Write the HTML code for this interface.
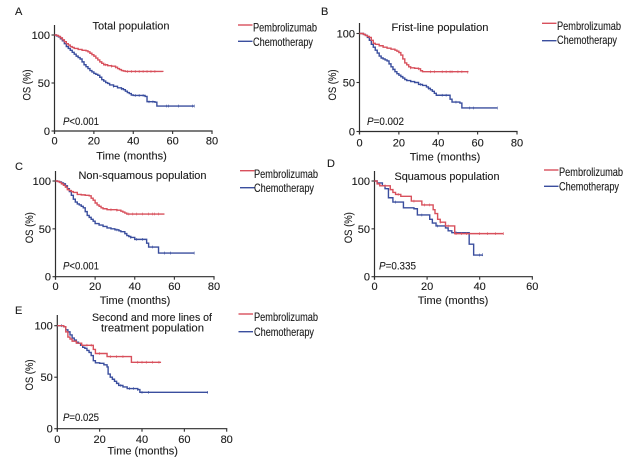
<!DOCTYPE html>
<html lang="en">
<head>
<meta charset="utf-8">
<title>Overall survival curves</title>
<style>
html,body{margin:0;padding:0;background:#fff;width:635px;height:462px;overflow:hidden}
svg{display:block;filter:blur(.35px)}
text{font-family:"Liberation Sans",sans-serif;font-size:11px;fill:#1c1c1c;stroke:#1c1c1c;stroke-width:.12px}
.lg{font-size:12px}
</style>
</head>
<body>
<svg id="figure" width="635" height="462" viewBox="0 0 635 462" xmlns="http://www.w3.org/2000/svg">
<rect width="635" height="462" fill="#fff"/>
<g id="panel-a">
<text x="15" y="15">A</text>
<text x="131" y="29.5" text-anchor="middle">Total population</text>
<text x="63" y="125" textLength="36" lengthAdjust="spacingAndGlyphs"><tspan font-style="italic">P</tspan>&lt;0.001</text>
<text class="lg" x="253" y="31.7" textLength="64" lengthAdjust="spacingAndGlyphs">Pembrolizumab</text>
<text class="lg" x="253" y="46" textLength="60" lengthAdjust="spacingAndGlyphs">Chemotherapy</text>
</g>
<g id="panel-b">
<text x="321" y="15">B</text>
<text x="440" y="31" text-anchor="middle" textLength="97" lengthAdjust="spacingAndGlyphs">Frist-line population</text>
<text x="367" y="125" textLength="37" lengthAdjust="spacingAndGlyphs"><tspan font-style="italic">P</tspan>=0.002</text>
<text class="lg" x="557" y="30.2" textLength="64" lengthAdjust="spacingAndGlyphs">Pembrolizumab</text>
<text class="lg" x="557" y="44.2" textLength="60" lengthAdjust="spacingAndGlyphs">Chemotherapy</text>
</g>
<g id="panel-c">
<text x="15" y="170">C</text>
<text x="142.5" y="179" text-anchor="middle" textLength="128" lengthAdjust="spacingAndGlyphs">Non-squamous population</text>
<text x="63" y="269.7" textLength="36" lengthAdjust="spacingAndGlyphs"><tspan font-style="italic">P</tspan>&lt;0.001</text>
<text class="lg" x="254" y="178.2" textLength="64" lengthAdjust="spacingAndGlyphs">Pembrolizumab</text>
<text class="lg" x="254" y="192.2" textLength="60" lengthAdjust="spacingAndGlyphs">Chemotherapy</text>
</g>
<g id="panel-d">
<text x="327" y="167">D</text>
<text x="447" y="180" text-anchor="middle" textLength="105" lengthAdjust="spacingAndGlyphs">Squamous population</text>
<text x="379" y="269.7" textLength="37" lengthAdjust="spacingAndGlyphs"><tspan font-style="italic">P</tspan>=0.335</text>
<text class="lg" x="559" y="175.9" textLength="64" lengthAdjust="spacingAndGlyphs">Pembrolizumab</text>
<text class="lg" x="559" y="190.5" textLength="60" lengthAdjust="spacingAndGlyphs">Chemotherapy</text>
</g>
<g id="panel-e">
<text x="15" y="314">E</text>
<text x="152" y="321" text-anchor="middle" textLength="120" lengthAdjust="spacingAndGlyphs">Second and more lines of</text>
<text x="152.5" y="331.3" text-anchor="middle" textLength="103" lengthAdjust="spacingAndGlyphs">treatment population</text>
<text x="63" y="421" textLength="36" lengthAdjust="spacingAndGlyphs"><tspan font-style="italic">P</tspan>=0.025</text>
<text class="lg" x="254" y="320.9" textLength="64" lengthAdjust="spacingAndGlyphs">Pembrolizumab</text>
<text class="lg" x="254" y="336.2" textLength="60" lengthAdjust="spacingAndGlyphs">Chemotherapy</text>
</g>
</svg>
<script>
// Shared tick labels
const xTicksLong = [0, 20, 40, 60, 80];
const xTicksShort = [0, 20, 40, 60];
const yTicks = [0, 50, 100];

// Panel A values
const aPembroTime = [0, 1, 2, 3, 4, 5, 6, 7, 8, 9, 10, 12, 14, 16, 17, 18, 19, 20, 21, 22, 23, 24, 25, 27, 29, 31, 32, 33, 34, 35, 36, 55];
const aPembroOS = [100, 99.5, 98.5, 97, 95, 93, 91, 89.5, 88, 87, 86, 85, 84, 83.5, 82.5, 81, 79.5, 78, 76, 74, 72, 70.5, 69, 68, 67.5, 66.5, 65, 64, 63, 62.5, 62, 61.5];
const aPembroCensor = [26, 29, 31, 37, 39, 41, 43, 45, 47, 49, 51];
const aChemoTime = [0, 1, 2, 3, 4, 5, 6, 7, 8, 9, 10, 11, 12, 13, 14, 15, 16, 17, 18, 19, 20, 21, 22, 23, 24, 25, 26, 27, 28, 30, 32, 34, 35, 36, 37, 38, 39, 40, 46, 47, 51, 52, 71];
const aChemoOS = [100, 99, 98, 96, 94, 91, 88, 86, 84, 82, 80, 78, 76.5, 75, 72, 69, 67, 65, 63, 61.5, 60, 59, 58, 56, 53.5, 52, 50.5, 49.5, 48, 46.5, 45, 44, 43, 41.5, 40, 39, 37.5, 37, 36, 30.5, 30, 26, 26];
const aChemoCensor = [30, 34, 41, 43, 45, 48, 50, 57, 58, 63, 70, 71];

// Panel B values
const bPembroTime = [0, 1, 2, 3, 4, 5, 6, 7, 8, 10, 12, 14, 16, 18, 19, 20, 21, 22, 23, 24, 25, 26, 28, 30, 31, 32, 55];
const bPembroOS = [100, 100, 99, 98, 97, 96, 93, 90, 89, 87.5, 86, 85, 84, 83, 82, 80.5, 78, 74, 70, 68, 66, 65, 64.5, 64, 62, 61, 60.5];
const bPembroCensor = [26, 30, 36, 38, 42, 44, 46, 47, 50, 52, 55];
const bChemoTime = [0, 1, 2, 3, 4, 5, 6, 7, 8, 9, 10, 11, 12, 13, 14, 15, 16, 17, 18, 19, 20, 21, 22, 23, 24, 26, 28, 30, 32, 34, 35, 36, 37, 38, 39, 45, 46, 47, 51, 52, 70];
const bChemoOS = [100, 100, 99, 98, 96, 93, 89, 86, 83, 80, 77, 75, 74, 73, 72, 69, 66, 63.5, 61, 59, 57.5, 56, 54.5, 53, 52, 51, 50, 48, 47, 45.5, 44, 42.5, 41, 39, 37, 37, 33, 30, 29, 24, 24];
const bChemoCensor = [17, 31, 35, 42, 44, 49, 56, 58, 70];

// Panel C values
const cPembroTime = [0, 1, 2, 3, 4, 5, 6, 7, 8, 9, 11, 13, 15, 17, 18, 19, 20, 21, 22, 23, 24, 26, 28, 31, 33, 34, 35, 36, 55];
const cPembroOS = [100, 99.5, 98.5, 97, 95.5, 93.5, 91, 90, 89, 88, 86, 85.5, 85, 84.5, 82, 80, 77, 75, 73.5, 72, 71, 70, 70, 69.5, 68.5, 67.5, 66.5, 65.5, 65.5];
const cPembroCensor = [28, 31, 37, 39, 41, 44, 47, 49, 50, 52];
const cChemoTime = [0, 1, 2, 3, 4, 5, 6, 7, 8, 9, 10, 11, 12, 13, 14, 15, 16, 17, 18, 19, 20, 22, 24, 26, 28, 30, 32, 33, 35, 36, 37, 38, 40, 45, 46, 47, 51, 52, 70];
const cChemoOS = [100, 99.5, 99, 98, 97, 95, 92, 89, 85, 81, 78, 76, 75, 73.5, 72, 68, 64, 62, 60, 58, 55.5, 54, 52.5, 51, 50, 49, 48, 47, 45, 43, 42, 41, 39, 39, 35, 31, 31, 24.7, 24.7];
const cChemoCensor = [31, 38, 41, 44, 49, 55, 58, 70];

// Panel D values
const dPembroTime = [0, 1, 2, 6, 7, 8, 10, 14, 18, 22.3, 23, 24, 25, 27, 30.5, 49];
const dPembroOS = [100, 97, 95, 91, 88, 86, 84, 79, 75, 70, 66, 60, 57, 53, 45, 45];
const dPembroCensor = [4, 9, 15, 19, 21, 25, 28, 31, 33, 35, 40, 43, 46, 49];
const dChemoTime = [0, 1, 3, 4, 5.3, 7, 11, 15, 16.3, 21, 22, 23.4, 27, 28, 29.4, 36, 37.7, 41];
const dChemoOS = [100, 98, 95, 92, 82.5, 78, 72, 71, 64.5, 60, 56, 53, 51, 48, 46, 34, 22.6, 23];
const dChemoCensor = [8, 18, 24, 31, 40, 41];

// Panel E values
const ePembroTime = [0, 3, 4, 5, 6, 7, 9, 11.5, 17, 18, 23.5, 35, 49];
const ePembroOS = [100, 99, 94, 89, 87, 85, 83, 81, 77, 73, 70, 64.5, 64.5];
const ePembroCensor = [14, 16, 20, 25, 28, 31, 38, 40, 42, 45, 48];
const eChemoTime = [0, 3, 4, 5, 6, 7, 8, 9, 10, 11, 12, 13, 14, 15, 16, 17, 18, 20, 22, 23.5, 24, 25, 26, 27, 28, 29, 31, 33, 38, 39, 71];
const eChemoOS = [100, 99, 96, 94, 91, 88, 86, 84, 83, 81, 79, 78, 76, 74, 71, 66, 64, 63.5, 62, 60, 53, 50, 48, 46, 44, 42, 40.5, 39, 38, 35.3, 35.3];
const eChemoCensor = [2, 30, 34, 36, 38, 40, 43, 71];

const NS = 'http://www.w3.org/2000/svg';
const RED = '#d8505c';
const BLUE = '#3a4e9e';
const AXIS = '#2e2e2e';

function makeScale(d0, d1, p0, p1) {
  return function (v) { return p0 + (v - d0) * (p1 - p0) / (d1 - d0); };
}

function stepValue(times, values, t) {
  let v = values[0];
  for (let i = 0; i < times.length; i++) { if (times[i] <= t) v = values[i]; }
  return v;
}

function addLine(parent, x1, y1, x2, y2, color, width) {
  const el = document.createElementNS(NS, 'line');
  el.setAttribute('x1', x1);
  el.setAttribute('y1', y1);
  el.setAttribute('x2', x2);
  el.setAttribute('y2', y2);
  el.setAttribute('stroke', color);
  el.setAttribute('stroke-width', width);
  parent.appendChild(el);
  return el;
}

function addLabel(parent, x, y, str, anchor) {
  const el = document.createElementNS(NS, 'text');
  el.setAttribute('x', x);
  el.setAttribute('y', y);
  el.setAttribute('text-anchor', anchor);
  el.textContent = str;
  parent.appendChild(el);
  return el;
}

function drawAxes(g, c, xScale, yScale, xTicks) {
  const xAxis = addLine(g, xScale(0) - 0.6, yScale(0), xScale(xTicks[xTicks.length - 1]) + 0.6, yScale(0), AXIS, 1.2);
  
  
  const yAxis = addLine(g, xScale(0), c.axisTop, xScale(0), yScale(0) + 3, AXIS, 1.2);
  
  
  xTicks.forEach(function (t) {
    const mark = addLine(g, xScale(t), yScale(0), xScale(t), yScale(0) + 3, AXIS, 1.1);
    
    
    const label = addLabel(g, xScale(t), c.xTickY, String(t), 'middle');
    
    
  });
  yTicks.forEach(function (t) {
    const mark = addLine(g, xScale(0) - 3, yScale(t), xScale(0), yScale(t), AXIS, 1.1);
    
    
    const label = addLabel(g, xScale(0) - 4.5, yScale(t) + 4, String(t), 'end');
    
    
  });
  const xTitle = addLabel(g, c.xTitleX, c.xTitleY, 'Time (months)', 'middle');
  
  
  const yTitle = addLabel(g, 0, 0, 'OS (%)', 'middle');
  yTitle.setAttribute('transform', 'translate(' + c.yTitleX + ' ' + c.yTitleY + ') rotate(-90)');
  yTitle.setAttribute('textLength', '31');
  yTitle.setAttribute('lengthAdjust', 'spacingAndGlyphs');
  
  
}

function drawSeries(g, times, values, censor, color, xScale, yScale) {
  let d = 'M' + xScale(times[0]) + ' ' + yScale(values[0]);
  for (let i = 1; i < times.length; i++) {
    d += 'H' + xScale(times[i]) + 'V' + yScale(values[i]);
  }
  const curve = document.createElementNS(NS, 'path');
  curve.setAttribute('d', d);
  curve.setAttribute('fill', 'none');
  curve.setAttribute('stroke', color);
  curve.setAttribute('stroke-width', '1.4');
  
  
  g.appendChild(curve);
  censor.forEach(function (t) {
    const y = yScale(stepValue(times, values, t));
    const tick = addLine(g, xScale(t), y - 1.4, xScale(t), y + 1.4, color, 0.6);
    
    
  });
}

function drawPanel(c) {
  const g = document.getElementById(c.id);
  const xTicks = c.xTicks;
  const xScale = makeScale(0, xTicks[xTicks.length - 1], c.x0, c.x1);
  const yScale = makeScale(0, 100, c.y0, c.y100);
  drawAxes(g, c, xScale, yScale, xTicks);
  drawSeries(g, c.chemo[0], c.chemo[1], c.chemo[2], BLUE, xScale, yScale);
  drawSeries(g, c.pembro[0], c.pembro[1], c.pembro[2], RED, xScale, yScale);
  const key1 = addLine(g, c.keyX, c.keyY1, c.keyX + 14.5, c.keyY1, RED, 1.4);
  
  
  const key2 = addLine(g, c.keyX, c.keyY2, c.keyX + 14.5, c.keyY2, BLUE, 1.4);
  
  
}

drawPanel({ id: 'panel-a', xTicks: xTicksLong, x0: 54.5, x1: 212, y0: 131, y100: 35, axisTop: 25, xTickY: 144.7, xTitleX: 131.5, xTitleY: 159.7, yTitleX: 30.7, yTitleY: 85, keyX: 238, keyY1: 25, keyY2: 41.3,
  pembro: [aPembroTime, aPembroOS, aPembroCensor], chemo: [aChemoTime, aChemoOS, aChemoCensor] });
drawPanel({ id: 'panel-b', xTicks: xTicksLong, x0: 359.5, x1: 517, y0: 131.5, y100: 33.5, axisTop: 23, xTickY: 146.7, xTitleX: 445, xTitleY: 160.7, yTitleX: 336, yTitleY: 85, keyX: 542, keyY1: 23.3, keyY2: 40.7,
  pembro: [bPembroTime, bPembroOS, bPembroCensor], chemo: [bChemoTime, bChemoOS, bChemoCensor] });
drawPanel({ id: 'panel-c', xTicks: xTicksLong, x0: 55.5, x1: 214, y0: 276.7, y100: 181, axisTop: 171, xTickY: 290, xTitleX: 135, xTitleY: 304, yTitleX: 33, yTitleY: 227.7, keyX: 240, keyY1: 170.7, keyY2: 187.7,
  pembro: [cPembroTime, cPembroOS, cPembroCensor], chemo: [cChemoTime, cChemoOS, cChemoCensor] });
drawPanel({ id: 'panel-d', xTicks: xTicksShort, x0: 374.5, x1: 532.3, y0: 276.7, y100: 181, axisTop: 171, xTickY: 290, xTitleX: 453, xTitleY: 304, yTitleX: 352, yTitleY: 227.7, keyX: 544, keyY1: 170, keyY2: 186.3,
  pembro: [dPembroTime, dPembroOS, dPembroCensor], chemo: [dChemoTime, dChemoOS, dChemoCensor] });
drawPanel({ id: 'panel-e', xTicks: xTicksLong, x0: 57.3, x1: 226.7, y0: 428.7, y100: 325.7, axisTop: 315, xTickY: 443, xTitleX: 142.7, xTitleY: 454.7, yTitleX: 33, yTitleY: 375, keyX: 238.5, keyY1: 314, keyY2: 331.7,
  pembro: [ePembroTime, ePembroOS, ePembroCensor], chemo: [eChemoTime, eChemoOS, eChemoCensor] });
</script>
</body>
</html>
